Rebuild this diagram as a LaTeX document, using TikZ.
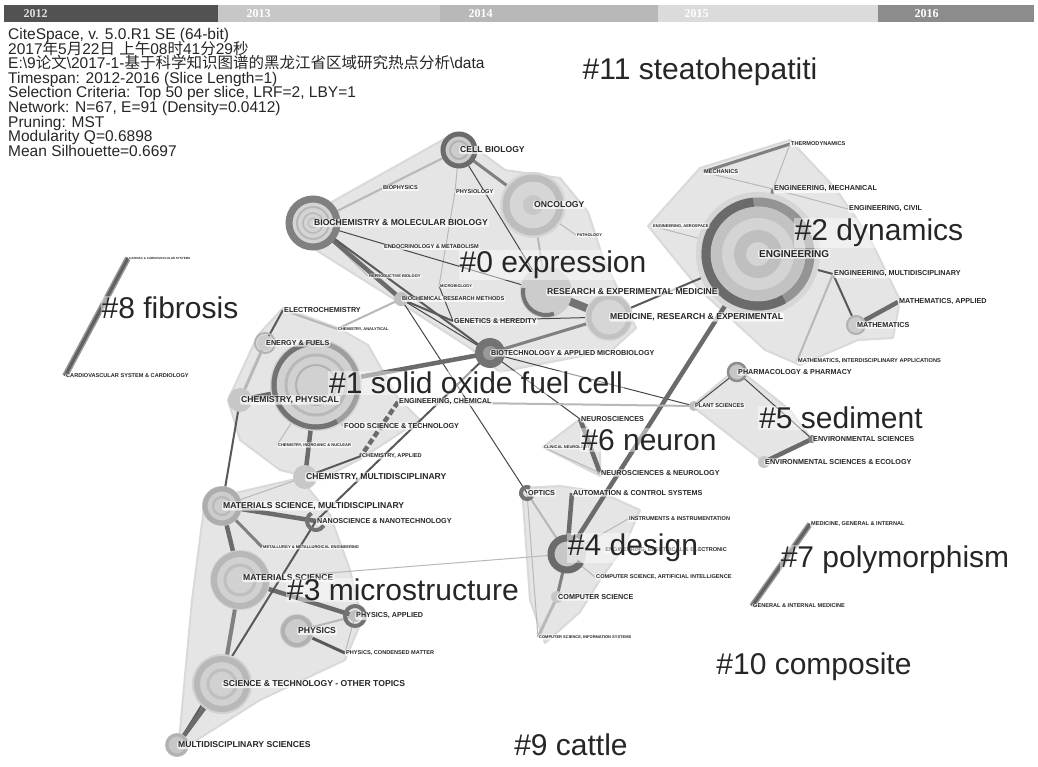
\documentclass[tikz,border=0pt]{standalone}
\usepackage{fontspec}
\setmainfont{Liberation Sans}
\newfontfamily\cjk{Noto Sans CJK SC}
\newfontfamily\yearfont{Liberation Serif}
\tikzset{
  hull/.style={fill=black!10, draw=black!15, line width=2pt, line join=round},
  lnk/.style={draw=black!28, line width=2pt},
  lnkt/.style={draw=black!28, line width=1pt},
  mid/.style={draw=black!50, line width=3pt},
  drk/.style={draw=black!72, line width=1pt},
  drkm/.style={draw=black!65, line width=2pt},
  hvy/.style={draw=black!58, line width=4.5pt},
  lbl/.style={anchor=west, inner sep=1pt, fill=white, fill opacity=.7, text opacity=1,
    rounded corners=2pt, text=black!85, font=\bfseries\fontsize{8.6}{9}\selectfont},
  lbm/.style={lbl, font=\bfseries\fontsize{7.2}{8}\selectfont},
  lbs/.style={lbl, font=\bfseries\fontsize{5.6}{6}\selectfont},
  lbt/.style={lbl, font=\bfseries\fontsize{4}{4.5}\selectfont},
  clu/.style={font=\fontsize{30}{30}\selectfont, text=black!85, inner sep=1pt,
    fill=white, fill opacity=.45, text opacity=1},
  yr/.style={font=\yearfont\bfseries\fontsize{12}{12}\selectfont, text=white, anchor=west},
}
\begin{document}
\begin{tikzpicture}[x=1pt,y=-1pt]
\useasboundingbox (0,0) rectangle (1038,766);
\fill[white] (0,0) rectangle (1038,766);
\fill[black!68] (4,5) rectangle (218,22);
\fill[black!22] (218,5) rectangle (440,22);
\fill[black!28] (440,5) rectangle (658,22);
\fill[black!14] (658,5) rectangle (878,22);
\fill[black!45] (878,5) rectangle (1034,22);
\node[yr, text=black!12] (y12) at (20,14) {2012};
\node[yr] (y13) at (243,14) {2013};
\node[yr] (y14) at (465,14) {2014};
\node[yr] (y15) at (681,14) {2015};
\node[yr] (y16) at (911,14) {2016};
\node[anchor=north west, align=left, inner sep=0pt, text=black!85,
  font={\fontsize{15.5}{14.6}\selectfont\lineskiplimit=-20pt}] (info) at (8,28)
  {CiteSpace, v. 5.0.R1 SE (64-bit)\\
   2017{\cjk 年}5{\cjk 月}22{\cjk 日} {\cjk 上午}08{\cjk 时}41{\cjk 分}29{\cjk 秒}\\
   E:\textbackslash 9{\cjk 论文}\textbackslash 2017-1-{\cjk 基于科学知识图谱的黑龙江省区域研究热点分析}\textbackslash data\\
   Timespan: 2012-2016 (Slice Length=1)\\
   Selection Criteria: Top 50 per slice, LRF=2, LBY=1\\
   Network: N=67, E=91 (Density=0.0412)\\
   Pruning: MST\\
   Modularity Q=0.6898\\
   Mean Silhouette=0.6697};
% node positions
\coordinate (cb) at (459,150);
\coordinate (bph) at (382,188);
\coordinate (phy) at (455,192);
\coordinate (onc) at (533,205);
\coordinate (pat) at (576,235);
\coordinate (bmb) at (313,223);
\coordinate (endo) at (383,247);
\coordinate (repro) at (368,276);
\coordinate (micro) at (439,286);
\coordinate (brm) at (401,299);
\coordinate (gen) at (453,321);
\coordinate (rem) at (546,292);
\coordinate (mre) at (609,317);
\coordinate (bio) at (490,353);
\coordinate (eng) at (758,254);
\coordinate (thd) at (790,144);
\coordinate (mech) at (703,172);
\coordinate (engm) at (773,189);
\coordinate (engc) at (848,209);
\coordinate (enga) at (652,226);
\coordinate (engmd) at (833,274);
\coordinate (matha) at (898,302);
\coordinate (math) at (856,325);
\coordinate (mathi) at (797,361);
\coordinate (phar) at (737,372);
\coordinate (plant) at (694,406);
\coordinate (env) at (812,439);
\coordinate (enve) at (764,462);
\coordinate (neu) at (580,419);
\coordinate (cln) at (543,447);
\coordinate (nn) at (600,473);
\coordinate (opt) at (527,493);
\coordinate (auto) at (572,493);
\coordinate (inst) at (628,519);
\coordinate (ee) at (567,554);
\coordinate (csai) at (595,577);
\coordinate (cs) at (557,597);
\coordinate (csis) at (538,637);
\coordinate (mgi) at (810,524);
\coordinate (gim) at (752,606);
\coordinate (card) at (128,258);
\coordinate (cvs) at (65,376);
\coordinate (ech) at (283,310);
\coordinate (cha) at (337,329);
\coordinate (ef) at (265,343);
\coordinate (big1) at (316,385);
\coordinate (chp) at (240,400);
\coordinate (engch) at (398,402);
\coordinate (food) at (343,426);
\coordinate (chin) at (277,445);
\coordinate (chap) at (361,456);
\coordinate (chm) at (305,477);
\coordinate (msm) at (222,506);
\coordinate (nano) at (316,521);
\coordinate (met) at (262,547);
\coordinate (ms) at (240,580);
\coordinate (pha) at (355,616);
\coordinate (phys) at (297,631);
\coordinate (phc) at (345,653);
\coordinate (st) at (222,684);
\coordinate (mds) at (177,745);
% cluster areas
\filldraw[hull] (296,222) -- (455,133) -- (505,170) -- (560,178) -- (588,212) -- (602,255)
  -- (636,328) -- (612,350) -- (500,372) -- (470,348) -- (405,306) -- (300,240) -- cycle;
\filldraw[hull] (648,226) -- (700,168) -- (790,140) -- (835,188) -- (868,235) -- (900,300)
  -- (893,338) -- (858,340) -- (800,365) -- (765,350) -- (700,290) -- cycle;
\filldraw[hull] (283,308) -- (258,335) -- (228,400) -- (240,440) -- (280,470) -- (320,480)
  -- (362,458) -- (420,420) -- (398,398) -- (368,345) -- (338,328) -- cycle;
\filldraw[hull] (205,500) -- (300,478) -- (330,515) -- (350,570) -- (362,620) -- (345,660)
  -- (260,700) -- (178,752) -- (192,600) -- cycle;
\filldraw[hull] (522,488) -- (560,486) -- (600,492) -- (640,510) -- (625,545) -- (600,580)
  -- (580,612) -- (545,643) -- (530,600) -- cycle;
\filldraw[hull] (692,406) -- (737,368) -- (790,410) -- (812,440) -- (764,462) -- cycle;
\filldraw[hull] (543,447) -- (580,419) -- (600,445) -- (600,476) -- cycle;
% links
\draw[lnk] (bmb) -- (cb);
\draw[mid] (cb) -- (onc);
\draw[lnkt] (cb) -- (phy);
\draw[drk] (cb) -- (rem);
\draw[lnkt] (phy) -- (micro);
\draw[lnkt] (onc) -- (pat);
\draw[lnk] (onc) -- (rem);
\draw[drk] (bmb) -- (rem);
\draw[lnkt] (bmb) -- (repro);
\draw[hvy] (bmb) -- (brm);
\draw[drkm] (bmb) -- (bio);
\draw[drkm] (brm) -- (gen);
\draw[drk] (brm) -- (bio);
\draw[lnk] (brm) -- (cha);
\draw[drk] (brm) -- (opt);
\draw[drk] (micro) -- (gen);
\draw[drk] (gen) -- (mre);
\draw[draw=black!55, line width=8pt] (rem) -- (mre);
\draw[mid] (bio) -- (mre);
\draw[drkm] (mre) -- (eng);
\draw[drk] (bio) -- (neu);
\draw[drk] (bio) -- (plant);
\draw[hvy] (big1) -- (bio);
\draw[drkm] (bio) -- (nano);
\draw[mid] (thd) -- (mech);
\draw[lnkt] (thd) -- (engm);
\draw[lnkt] (mech) -- (engm);
\draw[mid] (engm) -- (eng);
\draw[lnkt] (engm) -- (engc);
\draw[lnkt] (enga) -- (eng);
\draw[drkm] (eng) -- (engmd);
\draw[drkm] (engmd) -- (math);
\draw[hvy] (math) -- (matha);
\draw[lnk] (engmd) -- (mathi);
\draw[hvy] (eng) -- (ee);
\draw[drk] (plant) -- (phar);
\draw[drk] (phar) -- (env);
\draw[hvy] (env) -- (enve);
\draw[lnk] (engch) -- (plant);
\draw[hvy] (neu) -- (nn);
\draw[lnkt] (cln) -- (nn);
\draw[lnk] (opt) -- (ee);
\draw[lnkt] (opt) -- (csis);
\draw[hvy] (auto) -- (ee);
\draw[lnkt] (ee) -- (inst);
\draw[lnkt] (ee) -- (csai);
\draw[mid] (ee) -- (cs);
\draw[lnk, line width=3pt] (cs) -- (csis);
\draw[lnkt] (ee) -- (ms);
\draw[draw=black!40, line width=6pt] (mgi) -- (gim);
\draw[draw=black!62, line width=3pt] (mgi) -- (gim);
\draw[draw=black!40, line width=6pt] (card) -- (cvs);
\draw[draw=black!62, line width=3pt] (card) -- (cvs);
\draw[drkm] (ech) -- (ef);
\draw[lnk] (ech) -- (cha);
\draw[lnk, line width=3pt] (ef) -- (chp);
\draw[hvy] (chp) -- (big1);
\draw[hvy] (big1) -- (chm);
\draw[drkm] (chp) -- (msm);
\draw[hvy, dash pattern=on 6pt off 3pt] (engch) -- (chap);
\draw[drkm] (chap) -- (chm);
\draw[lnkt] (chm) -- (msm);
\draw[lnkt] (chin) -- (big1);
\draw[lnkt] (food) -- (big1);
\draw[hvy] (msm) -- (nano);
\draw[mid] (msm) -- (met);
\draw[hvy] (msm) -- (ms);
\draw[hvy] (ms) -- (pha);
\draw[lnk] (pha) -- (phys);
\draw[drkm, line width=3pt] (phys) -- (phc);
\draw[lnkt] (pha) -- (phc);
\draw[drkm] (nano) -- (mds);
\draw[mid, line width=4pt] (ms) -- (st);
\draw[hvy] (st) -- (mds);
% rings
\fill[black!16] (eng) circle (62pt);
\fill[black!24] (eng) circle (47pt);
\fill[black!17] (eng) circle (36pt);
\fill[black!25] (eng) circle (24pt);
\fill[black!17] (eng) circle (12pt);
\draw[black!42, line width=9pt] (eng) circle (52pt);
\draw[black!58, line width=9pt] ([shift={(95:52pt)}]eng) arc[start angle=95, end angle=300, radius=52pt];
\fill[black!16] (onc) circle (33pt);
\draw[black!26, line width=7pt] (onc) circle (27pt);
\fill[black!22] (onc) circle (10pt);
\fill[black!20] (cb) circle (15pt);
\draw[black!58, line width=5pt] (cb) circle (16pt);
\draw[black!30, line width=2pt] (cb) circle (9pt);
\fill[black!17] (bmb) circle (27pt);
\draw[black!50, line width=7pt] (bmb) circle (24pt);
\draw[black!28, line width=2pt] (bmb) circle (16pt);
\draw[black!28, line width=1.5pt] (bmb) circle (10pt);
\draw[black!28, line width=1pt] (bmb) circle (5pt);
\fill[black!20] (rem) circle (26pt);
\draw[black!55, line width=4pt] ([shift={(170:23pt)}]rem) arc[start angle=170, end angle=290, radius=23pt];
\fill[black!16] (mre) circle (24pt);
\draw[black!24, line width=5pt] (mre) circle (20pt);
\fill[black!55] (bio) circle (15pt);
\fill[black!40] (bio) circle (7pt);
\fill[black!25] (brm) circle (7pt);
\fill[black!18] (big1) circle (46pt);
\draw[black!38, line width=5pt] (big1) circle (42pt);
\draw[black!55, line width=5pt] ([shift={(90:42pt)}]big1) arc[start angle=90, end angle=300, radius=42pt];
\draw[black!28, line width=3pt] (big1) circle (30pt);
\draw[black!30, line width=2pt] (big1) circle (20pt);
\fill[black!18] (ms) circle (30pt);
\draw[black!28, line width=6pt] (ms) circle (26pt);
\draw[black!25, line width=3pt] (ms) circle (15pt);
\fill[black!18] (st) circle (30pt);
\draw[black!28, line width=6pt] (st) circle (25pt);
\draw[black!25, line width=3pt] (st) circle (14pt);
\fill[black!20] (msm) circle (20pt);
\draw[black!32, line width=5pt] (msm) circle (17pt);
\draw[black!28, line width=2pt] (msm) circle (9pt);
\fill[black!20] (phys) circle (17pt);
\draw[black!30, line width=4pt] (phys) circle (14pt);
\draw[black!55, line width=4pt] (pha) circle (10pt);
\fill[black!25] (pha) circle (6pt);
\draw[black!55, line width=4pt] ([shift={(120:9pt)}]nano) arc[start angle=120, end angle=330, radius=9pt];
\fill[black!22] (chm) circle (12pt);
\fill[black!22] (chp) circle (12pt);
\draw[black!30, line width=2pt] (ef) circle (10pt);
\fill[black!20] (ef) circle (8pt);
\fill[black!22] (mds) circle (12pt);
\draw[black!30, line width=3pt] (mds) circle (10pt);
\fill[black!20] (math) circle (10pt);
\draw[black!30, line width=2pt] (math) circle (9pt);
\fill[black!22] (phar) circle (10pt);
\draw[black!45, line width=2.5pt] (phar) circle (9pt);
\fill[black!25] (plant) circle (5pt);
\fill[black!50] (env) circle (4pt);
\fill[black!22] (enve) circle (6pt);
\fill[black!22] (ee) circle (19pt);
\draw[black!58, line width=7pt] ([shift={(60:16pt)}]ee) arc[start angle=60, end angle=330, radius=16pt];
\draw[black!55, line width=4pt] ([shift={(60:6pt)}]opt) arc[start angle=60, end angle=330, radius=6pt];
\fill[black!22] (cs) circle (6pt);
% labels
\node[lbl] (cb-l) at (cb) {CELL BIOLOGY};
\node[lbs] (bph-l) at (bph) {BIOPHYSICS};
\node[lbs] (phy-l) at (phy) {PHYSIOLOGY};
\node[lbl] (onc-l) at (onc) {ONCOLOGY};
\node[lbt] (pat-l) at (pat) {PATHOLOGY};
\node[lbl] (bmb-l) at (bmb) {BIOCHEMISTRY \& MOLECULAR BIOLOGY};
\node[lbs] (endo-l) at (endo) {ENDOCRINOLOGY \& METABOLISM};
\node[lbt] (repro-l) at (repro) {REPRODUCTIVE BIOLOGY};
\node[lbt] (micro-l) at (micro) {MICROBIOLOGY};
\node[lbs] (brm-l) at (brm) {BIOCHEMICAL RESEARCH METHODS};
\node[lbm] (gen-l) at (gen) {GENETICS \& HEREDITY};
\node[lbl] (rem-l) at (rem) {RESEARCH \& EXPERIMENTAL MEDICINE};
\node[lbl] (mre-l) at (mre) {MEDICINE, RESEARCH \& EXPERIMENTAL};
\node[lbm] (bio-l) at (bio) {BIOTECHNOLOGY \& APPLIED MICROBIOLOGY};
\node[lbl, font=\bfseries\fontsize{10}{11}\selectfont] (eng-l) at (eng) {ENGINEERING};
\node[lbs] (thd-l) at (thd) {THERMODYNAMICS};
\node[lbs] (mech-l) at (mech) {MECHANICS};
\node[lbm] (engm-l) at (engm) {ENGINEERING, MECHANICAL};
\node[lbm] (engc-l) at (engc) {ENGINEERING, CIVIL};
\node[lbt] (enga-l) at (enga) {ENGINEERING, AEROSPACE};
\node[lbm] (engmd-l) at (engmd) {ENGINEERING, MULTIDISCIPLINARY};
\node[lbm] (matha-l) at (matha) {MATHEMATICS, APPLIED};
\node[lbm] (math-l) at (math) {MATHEMATICS};
\node[lbs] (mathi-l) at (mathi) {MATHEMATICS, INTERDISCIPLINARY APPLICATIONS};
\node[lbm] (phar-l) at (phar) {PHARMACOLOGY \& PHARMACY};
\node[lbs] (plant-l) at (plant) {PLANT SCIENCES};
\node[lbm] (env-l) at (env) {ENVIRONMENTAL SCIENCES};
\node[lbm] (enve-l) at (enve) {ENVIRONMENTAL SCIENCES \& ECOLOGY};
\node[lbm] (neu-l) at (neu) {NEUROSCIENCES};
\node[lbt] (cln-l) at (cln) {CLINICAL NEUROLOGY};
\node[lbm] (nn-l) at (nn) {NEUROSCIENCES \& NEUROLOGY};
\node[lbm] (opt-l) at (opt) {OPTICS};
\node[lbm] (auto-l) at (auto) {AUTOMATION \& CONTROL SYSTEMS};
\node[lbs] (inst-l) at (inst) {INSTRUMENTS \& INSTRUMENTATION};
\node[lbs, anchor=east] (ee-l) at (728,550) {ENGINEERING, ELECTRICAL \& ELECTRONIC};
\node[lbs] (csai-l) at (csai) {COMPUTER SCIENCE, ARTIFICIAL INTELLIGENCE};
\node[lbm] (cs-l) at (cs) {COMPUTER SCIENCE};
\node[lbt] (csis-l) at (csis) {COMPUTER SCIENCE, INFORMATION SYSTEMS};
\node[lbs] (mgi-l) at (mgi) {MEDICINE, GENERAL \& INTERNAL};
\node[lbs] (gim-l) at (gim) {GENERAL \& INTERNAL MEDICINE};
\node[lbt, font=\bfseries\fontsize{3}{3.5}\selectfont] (card-l) at (card) {CARDIAC \& CARDIOVASCULAR SYSTEMS};
\node[lbs] (cvs-l) at (cvs) {CARDIOVASCULAR SYSTEM \& CARDIOLOGY};
\node[lbm] (ech-l) at (ech) {ELECTROCHEMISTRY};
\node[lbt] (cha-l) at (cha) {CHEMISTRY, ANALYTICAL};
\node[lbm] (ef-l) at (ef) {ENERGY \& FUELS};
\node[lbl] (chp-l) at (chp) {CHEMISTRY, PHYSICAL};
\node[lbm] (engch-l) at (engch) {ENGINEERING, CHEMICAL};
\node[lbm] (food-l) at (food) {FOOD SCIENCE \& TECHNOLOGY};
\node[lbt] (chin-l) at (chin) {CHEMISTRY, INORGANIC \& NUCLEAR};
\node[lbs] (chap-l) at (chap) {CHEMISTRY, APPLIED};
\node[lbl] (chm-l) at (chm) {CHEMISTRY, MULTIDISCIPLINARY};
\node[lbl] (msm-l) at (msm) {MATERIALS SCIENCE, MULTIDISCIPLINARY};
\node[lbm] (nano-l) at (nano) {NANOSCIENCE \& NANOTECHNOLOGY};
\node[lbt] (met-l) at (met) {METALLURGY \& METALLURGICAL ENGINEERING};
\node[lbl] (ms-l) at (242,578) {MATERIALS SCIENCE};
\node[lbm] (pha-l) at (pha) {PHYSICS, APPLIED};
\node[lbl] (phys-l) at (phys) {PHYSICS};
\node[lbs] (phc-l) at (phc) {PHYSICS, CONDENSED MATTER};
\node[lbl] (st-l) at (st) {SCIENCE \& TECHNOLOGY - OTHER TOPICS};
\node[lbl] (mds-l) at (mds) {MULTIDISCIPLINARY SCIENCES};
% cluster labels
\node[clu] (c11) at (700,72) {\#11 steatohepatiti};
\node[clu] (c2) at (879,233) {\#2 dynamics};
\node[clu] (c0) at (553,265) {\#0 expression};
\node[clu] (c8) at (170,308) {\#8 fibrosis};
\node[clu] (c1) at (476,383) {\#1 solid oxide fuel cell};
\node[clu] (c5) at (841,418) {\#5 sediment};
\node[clu] (c6) at (649,440) {\#6 neuron};
\node[clu] (c4) at (633,548) {\#4 design};
\node[clu] (c7) at (895,560) {\#7 polymorphism};
\node[clu] (c3) at (403,590) {\#3 microstructure};
\node[clu] (c10) at (814,667) {\#10 composite};
\node[clu] (c9) at (571,745) {\#9 cattle};
\end{tikzpicture}
\end{document}
